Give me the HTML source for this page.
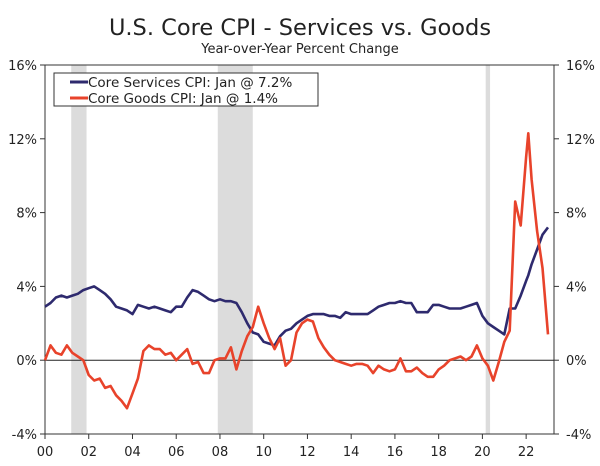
<!DOCTYPE html>
<html><head><meta charset="utf-8"><style>
body{margin:0;background:#fff;}
svg text{font-family:"DejaVu Sans","Liberation Sans",sans-serif;fill:#222;}
</style></head><body>
<svg width="600" height="461">
<text x="300" y="35" text-anchor="middle" font-size="22.5">U.S. Core CPI - Services vs. Goods</text>
<text x="300" y="53" text-anchor="middle" font-size="13">Year-over-Year Percent Change</text>
<g id="rec"></g>
<g id="axes"></g>
<g id="series"></g>
<g>
<rect x="54" y="73" width="264" height="33" fill="#fff" stroke="#333" stroke-width="1"/>
<line x1="70" y1="82" x2="88" y2="82" stroke="#2e2a6e" stroke-width="3"/>
<text x="88" y="87" font-size="13.5">Core Services CPI: Jan @ 7.2%</text>
<line x1="70" y1="98" x2="88" y2="98" stroke="#e8432b" stroke-width="3"/>
<text x="88" y="103" font-size="13.5">Core Goods CPI: Jan @ 1.4%</text>
</g>
</svg>
<script>
const dates=[];for(let y=2000;y<2023;y++)for(let q=0;q<4;q++)dates.push(y+q*0.25);dates.push(2023);
dates.splice(89,0,2022.1);
const services=[2.9,3.1,3.4,3.5, 3.4,3.5,3.6,3.8, 3.9,4.0,3.8,3.6, 3.3,2.9,2.8,2.7, 2.5,3.0,2.9,2.8, 2.9,2.8,2.7,2.6, 2.9,2.9,3.4,3.8, 3.7,3.5,3.3,3.2, 3.3,3.2,3.2,3.1, 2.6,2.0,1.5,1.4, 1.0,0.9,0.8,1.3, 1.6,1.7,2.0,2.2, 2.4,2.5,2.5,2.5, 2.4,2.4,2.3,2.6, 2.5,2.5,2.5,2.5, 2.7,2.9,3.0,3.1, 3.1,3.2,3.1,3.1, 2.6,2.6,2.6,3.0, 3.0,2.9,2.8,2.8, 2.8,2.9,3.0,3.1, 2.4,2.0,1.8,1.6, 1.4,2.8,2.8,3.5, 4.3,4.6,5.2,6.0,6.8, 7.2];
const goods=[0.0,0.8,0.4,0.3, 0.8,0.4,0.2,0.0, -0.8,-1.1,-1.0,-1.5, -1.4,-1.9,-2.2,-2.6, -1.8,-1.0,0.5,0.8, 0.6,0.6,0.3,0.4, 0.0,0.3,0.6,-0.2, -0.1,-0.7,-0.7,0.0, 0.1,0.1,0.7,-0.5, 0.5,1.3,1.8,2.9, 2.0,1.2,0.6,1.2, -0.3,0.0,1.5,2.0, 2.2,2.1,1.2,0.7, 0.3,0.0,-0.1,-0.2, -0.3,-0.2,-0.2,-0.3, -0.7,-0.3,-0.5,-0.6, -0.5,0.1,-0.6,-0.6, -0.4,-0.7,-0.9,-0.9, -0.5,-0.3,0.0,0.1, 0.2,0.0,0.2,0.8, 0.1,-0.3,-1.1,-0.1, 1.0,1.6,8.6,7.3, 11.0,12.3,9.8,7.0,5.0, 1.4];
const recessions=[[2001.2,2001.9],[2007.9,2009.5],[2020.15,2020.35]];
const yTicks=[-4,0,4,8,12,16];
const xTicks=[0,2,4,6,8,10,12,14,16,18,20,22];
const L=45,R=554,T=65,B=434;
const X=d=>L+(d-2000)*21.87, Y=v=>T+(16-v)*(B-T)/20;
const NS="http://www.w3.org/2000/svg";
function mk(p,t,a){const e=document.createElementNS(NS,t);for(const k in a)e.setAttribute(k,a[k]);p.appendChild(e);return e;}
const rec=document.getElementById('rec'),ax=document.getElementById('axes'),se=document.getElementById('series');
recessions.forEach(r=>{const e=mk(rec,'rect',{x:X(r[0]),y:T,width:X(r[1])-X(r[0]),height:B-T,fill:'#dcdcdc'});

});
mk(ax,'rect',{x:L,y:T,width:R-L,height:B-T,fill:'none',stroke:'#333','stroke-width':1});
mk(ax,'line',{x1:L,x2:R,y1:Y(0),y2:Y(0),stroke:'#222','stroke-width':1});
yTicks.forEach(v=>{const y=Y(v);
mk(ax,'line',{x1:L-5,x2:L,y1:y,y2:y,stroke:'#333'});mk(ax,'line',{x1:R,x2:R+5,y1:y,y2:y,stroke:'#333'});
const a=mk(ax,'text',{x:37,y:y+5,'text-anchor':'end','font-size':13});a.textContent=v+'%';


const b=mk(ax,'text',{x:566,y:y+5,'font-size':13});b.textContent=v+'%';

});
xTicks.forEach(v=>{const x=X(2000+v);mk(ax,'line',{x1:x,x2:x,y1:B,y2:B+5,stroke:'#333'});
const t=mk(ax,'text',{x:x,y:456,'text-anchor':'middle','font-size':13});t.textContent=String(v).padStart(2,'0');

});
function line(vals,col,name){const d=vals.map((v,i)=>(i?'L':'M')+X(dates[i]).toFixed(1)+','+Y(v).toFixed(1)).join('');
const p=mk(se,'path',{d:d,fill:'none',stroke:col,'stroke-width':2.6,'stroke-linejoin':'round'});

}
line(services,'#2e2a6e','services-line');
line(goods,'#e8432b','goods-line');
</script>
</body></html>
